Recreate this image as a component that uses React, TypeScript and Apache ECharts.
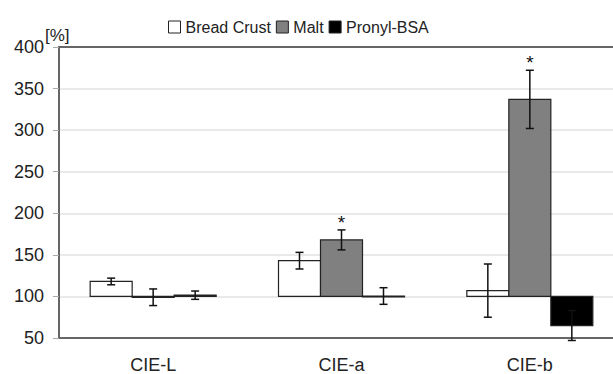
import React, { useEffect, useRef } from "react";
import * as echarts from "echarts";

const categories = ["CIE-L", "CIE-a", "CIE-b"];
const seriesNames = ["Bread Crust", "Malt", "Pronyl-BSA"];
const breadCrust = [118, 143, 107];
const breadCrustErr = [4, 10, 32];
const malt = [99, 168, 337];
const maltErr = [10, 12, 35];
const pronyl = [101.5, 100.5, 65];
const pronylErr = [5, 10, 18];
const maltSignificant = [0, 1, 1];
const yTicks = { min: 50, max: 400, interval: 50 };
const baseline = 100;

const fills = ["#ffffff", "#808080", "#000000"];

export default function App() {
  const ref = useRef<HTMLDivElement>(null);
  useEffect(() => {
    if (!ref.current) return;
    const chart = echarts.init(ref.current, null, { renderer: "svg" });
    const values = [breadCrust, malt, pronyl];
    const errs = [breadCrustErr, maltErr, pronylErr];
    const makeSeries = (si: number) => ({
      type: "custom",
      name: seriesNames[si],
      itemStyle: { color: fills[si], borderColor: "#222", borderWidth: 1 },
      encode: { x: 0, y: 1 },
      data: categories.map((_, i) => [i, values[si][i], errs[si][i], si === 1 ? maltSignificant[i] : 0]),
      renderItem: (params: any, api: any) => {
        const idx = api.value(0);
        const v = api.value(1);
        const e = api.value(2);
        const sig = api.value(3);
        const band = api.size([1, 0])[0];
        const bw = band * 0.223;
        const b = api.coord([idx, baseline]);
        const t = api.coord([idx, v]);
        const hi = api.coord([idx, v + e]);
        const lo = api.coord([idx, v - e]);
        const cx = b[0] + (si - 1) * bw;
        const y0 = Math.min(b[1], t[1]);
        const h = Math.max(Math.abs(b[1] - t[1]), 1);
        const cap = 4;
        const children: any[] = [
          {
            type: "rect",
            shape: { x: cx - bw / 2, y: y0, width: bw, height: h },
            style: { fill: fills[si], stroke: "#222", lineWidth: 1.2 },
          },
          {
            type: "line",
            shape: { x1: cx, y1: hi[1], x2: cx, y2: lo[1] },
            style: { stroke: "#111", lineWidth: 1.5 },
          },
          {
            type: "line",
            shape: { x1: cx - cap, y1: hi[1], x2: cx + cap, y2: hi[1] },
            style: { stroke: "#111", lineWidth: 1.5 },
          },
          {
            type: "line",
            shape: { x1: cx - cap, y1: lo[1], x2: cx + cap, y2: lo[1] },
            style: { stroke: "#111", lineWidth: 1.5 },
          },
        ];
        if (sig) {
          children.push({
            type: "text",
            style: {
              text: "*",
              x: cx,
              y: hi[1] + 2,
              align: "center",
              verticalAlign: "bottom",
              fontSize: 19,
              fontFamily: "Liberation Sans, Arial, sans-serif",
              fill: "#111",
            },
          });
        }
        return { type: "group", children };
      },
      z: 3 + si,
    });
    chart.setOption({
      animation: false,
      backgroundColor: "#ffffff",
      textStyle: { fontFamily: "Liberation Sans, Arial, sans-serif" },
      legend: {
        data: seriesNames.map((n, i) => ({
          name: n,
          icon: "rect",
          itemStyle: { color: fills[i], borderColor: "#222", borderWidth: 1 },
        })),
        left: 163,
        top: 14,
        itemWidth: 12,
        itemHeight: 12,
        itemGap: 5,
        textStyle: { fontSize: 16, color: "#222" },
        selectedMode: false,
      },
      grid: {
        left: 59,
        top: 47,
        bottom: 36,
        width: 565,
        outerBoundsMode: "none",
        containLabel: false,
        show: false,
      },
      xAxis: [
        {
          type: "category",
          data: categories,
          position: "bottom",
          axisLine: { show: true, lineStyle: { color: "#666", width: 2 } },
          axisTick: { show: false },
          axisLabel: { fontSize: 18, color: "#222", margin: 18 },
          splitLine: { show: false },
        },
        {
          type: "category",
          data: categories,
          position: "top",
          axisLine: { show: true, lineStyle: { color: "#666", width: 2 } },
          axisTick: { show: false },
          axisLabel: { show: false },
          splitLine: { show: false },
        },
      ],
      yAxis: {
        type: "value",
        min: yTicks.min,
        max: yTicks.max,
        interval: yTicks.interval,
        axisLine: { show: true, lineStyle: { color: "#666", width: 2 } },
        axisTick: { show: true, length: 6, lineStyle: { color: "#aaa" } },
        axisLabel: { fontSize: 18, color: "#222", margin: 15 },
        splitLine: { show: true, lineStyle: { color: "#e2e2e2", width: 1.5 } },
      },
      graphic: [
        {
          type: "text",
          left: 45,
          top: 27,
          style: { text: "[%]", fontSize: 17, fill: "#222", fontFamily: "Liberation Sans, Arial, sans-serif" },
        },
      ],
      series: [0, 1, 2].map(makeSeries),
    });
    return () => chart.dispose();
  }, []);
  return <div ref={ref} style={{ position: "absolute", left: 0, top: 0, width: 613, height: 374 }} />;
}
